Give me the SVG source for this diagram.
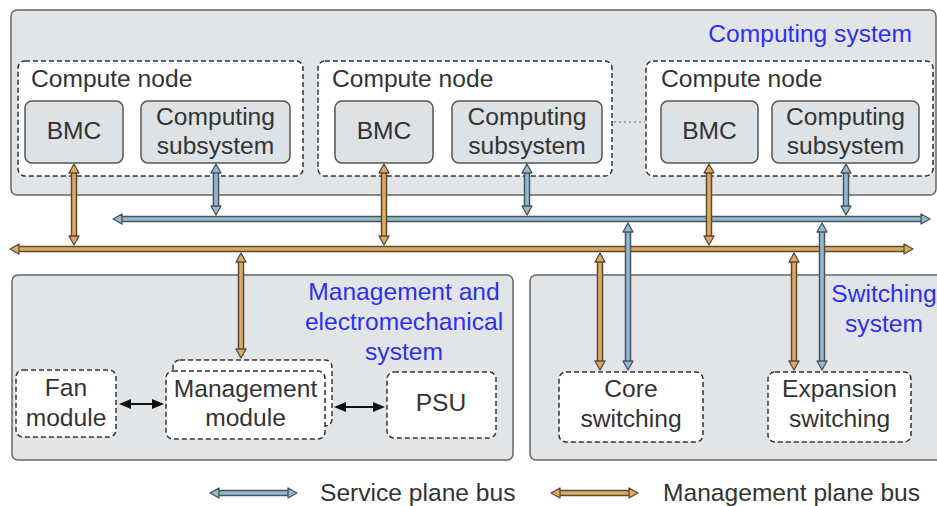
<svg xmlns="http://www.w3.org/2000/svg" width="937" height="506" viewBox="0 0 937 506">
<defs>
<style>
text{font-family:"Liberation Sans",Arial,sans-serif;font-size:24.6px;fill:#333}
.c{text-anchor:middle}
.blue{fill:#2f2ff0}
.sys{fill:#e1e5e8;stroke:#666;stroke-width:1.5}
.sub{fill:#dde2e6;stroke:#555;stroke-width:1.5}
.dash{fill:#fff;stroke:#333;stroke-width:1.5;stroke-dasharray:5 3}
.bo{stroke:#5a4a32;stroke-width:6.5;fill:none}
.bi-o{stroke:#dcab60;stroke-width:3.5;fill:none;marker-start:url(#ho);marker-end:url(#ho)}
.bb{stroke:#46535c;stroke-width:6.5;fill:none}
.bi-b{stroke:#94b8cc;stroke-width:3.5;fill:none;marker-start:url(#hb);marker-end:url(#hb)}
.blk{stroke:#111;stroke-width:2;fill:none;marker-start:url(#hk);marker-end:url(#hk)}
</style>
<marker id="ho" markerUnits="userSpaceOnUse" markerWidth="14" markerHeight="14" refX="1" refY="7" orient="auto-start-reverse" viewBox="0 0 14 14">
<path d="M1,2 L10,7 L1,12 z" fill="#dcab60" stroke="#5a4a32" stroke-width="1.3" stroke-linejoin="round"/>
</marker>
<marker id="hb" markerUnits="userSpaceOnUse" markerWidth="14" markerHeight="14" refX="1" refY="7" orient="auto-start-reverse" viewBox="0 0 14 14">
<path d="M1,2 L10,7 L1,12 z" fill="#94b8cc" stroke="#46535c" stroke-width="1.3" stroke-linejoin="round"/>
</marker>
<marker id="hk" markerUnits="userSpaceOnUse" markerWidth="16" markerHeight="14" refX="1" refY="7" orient="auto-start-reverse" viewBox="0 0 16 14">
<path d="M1,2 L13,7 L1,12 z" fill="#111"/>
</marker>
</defs>

<g id="computing-system">
<rect class="sys" x="11" y="10" width="925" height="185" rx="6"/>
<text class="blue" x="912" y="42" text-anchor="end">Computing system</text>
</g>

<g id="compute-node-1">
<rect class="dash" x="18" y="61" width="285" height="115" rx="7"/>
<text x="31" y="87">Compute node</text>
<g id="bmc-1"><rect class="sub" x="25" y="101" width="98" height="62" rx="7"/><text class="c" x="74" y="139">BMC</text></g>
<g id="cs-1"><rect class="sub" x="141" y="101" width="149" height="62" rx="7"/><text class="c" x="215.5" y="125">Computing</text><text class="c" x="215.5" y="154">subsystem</text></g>
</g>

<g id="compute-node-2">
<rect class="dash" x="318" y="61" width="294" height="115" rx="7"/>
<text x="332" y="87">Compute node</text>
<g id="bmc-2"><rect class="sub" x="335" y="101" width="98" height="62" rx="7"/><text class="c" x="384" y="139">BMC</text></g>
<g id="cs-2"><rect class="sub" x="452" y="101" width="150" height="62" rx="7"/><text class="c" x="527" y="125">Computing</text><text class="c" x="527" y="154">subsystem</text></g>
</g>

<line x1="614" y1="122" x2="645" y2="122" stroke="#666" stroke-width="1" stroke-dasharray="2 3"/>

<g id="compute-node-3">
<rect class="dash" x="646" y="61" width="287" height="115" rx="7"/>
<text x="661" y="87">Compute node</text>
<g id="bmc-3"><rect class="sub" x="661" y="101" width="97" height="62" rx="7"/><text class="c" x="709.5" y="139">BMC</text></g>
<g id="cs-3"><rect class="sub" x="772" y="101" width="147" height="62" rx="7"/><text class="c" x="845.5" y="125">Computing</text><text class="c" x="845.5" y="154">subsystem</text></g>
</g>

<g id="management-system">
<rect class="sys" x="12" y="275" width="501" height="185" rx="6"/>
<text class="blue c" x="404" y="300">Management and</text>
<text class="blue c" x="404" y="330">electromechanical</text>
<text class="blue c" x="404" y="360">system</text>
</g>

<g id="switching-system">
<rect class="sys" x="530" y="275" width="420" height="185" rx="6"/>
<text class="blue c" x="884" y="302">Switching</text>
<text class="blue c" x="884" y="332">system</text>
</g>

<g id="fan-module">
<rect class="dash" x="16" y="370" width="100" height="67" rx="7"/>
<text class="c" x="66" y="396">Fan</text>
<text class="c" x="66" y="426">module</text>
</g>

<g id="management-module">
<rect class="dash" x="173" y="360" width="159" height="66" rx="7"/>
<rect class="dash" x="166" y="371" width="159" height="68" rx="7"/>
<text class="c" x="245.5" y="397">Management</text>
<text class="c" x="245.5" y="426">module</text>
</g>

<g id="psu">
<rect class="dash" x="387" y="372" width="109" height="66" rx="7"/>
<text class="c" x="441" y="411">PSU</text>
</g>

<g id="core-switching">
<rect class="dash" x="559" y="372" width="144" height="70" rx="7"/>
<text class="c" x="631" y="397">Core</text>
<text class="c" x="631" y="427">switching</text>
</g>

<g id="expansion-switching">
<rect class="dash" x="768" y="372" width="143" height="70" rx="7"/>
<text class="c" x="839.5" y="397">Expansion</text>
<text class="c" x="839.5" y="427">switching</text>
</g>

<g id="connectors">
<line class="bb" x1="122" y1="219" x2="921" y2="219"/>
<line class="bi-b" x1="122" y1="219" x2="921" y2="219"/>
<line class="bo" x1="19" y1="249" x2="904" y2="249"/>
<line class="bi-o" x1="19" y1="249" x2="904" y2="249"/>

<line class="bo" x1="74" y1="173" x2="74" y2="236"/><line class="bi-o" x1="74" y1="173" x2="74" y2="236"/>
<line class="bo" x1="384" y1="173" x2="384" y2="236"/><line class="bi-o" x1="384" y1="173" x2="384" y2="236"/>
<line class="bo" x1="709" y1="173" x2="709" y2="236"/><line class="bi-o" x1="709" y1="173" x2="709" y2="236"/>
<line class="bb" x1="216" y1="173" x2="216" y2="206"/><line class="bi-b" x1="216" y1="173" x2="216" y2="206"/>
<line class="bb" x1="527" y1="173" x2="527" y2="206"/><line class="bi-b" x1="527" y1="173" x2="527" y2="206"/>
<line class="bb" x1="846" y1="173" x2="846" y2="206"/><line class="bi-b" x1="846" y1="173" x2="846" y2="206"/>
<line class="bo" x1="241" y1="262" x2="241" y2="349"/><line class="bi-o" x1="241" y1="262" x2="241" y2="349"/>
<line class="bo" x1="600" y1="262" x2="600" y2="361"/><line class="bi-o" x1="600" y1="262" x2="600" y2="361"/>
<line class="bb" x1="628" y1="232" x2="628" y2="361"/><line class="bi-b" x1="628" y1="232" x2="628" y2="361"/>
<line class="bo" x1="794" y1="262" x2="794" y2="361"/><line class="bi-o" x1="794" y1="262" x2="794" y2="361"/>
<line class="bb" x1="822" y1="232" x2="822" y2="361"/><line class="bi-b" x1="822" y1="232" x2="822" y2="361"/>

<line class="blk" x1="131" y1="404" x2="152" y2="404"/>
<line class="blk" x1="346" y1="407" x2="373" y2="407"/>
</g>

<g id="legend">
<line class="bb" x1="219" y1="493" x2="288" y2="493"/><line class="bi-b" x1="219" y1="493" x2="288" y2="493"/>
<text x="320" y="501">Service plane bus</text>
<line class="bo" x1="560" y1="493" x2="629" y2="493"/><line class="bi-o" x1="560" y1="493" x2="629" y2="493"/>
<text x="663" y="501">Management plane bus</text>
</g>
</svg>
